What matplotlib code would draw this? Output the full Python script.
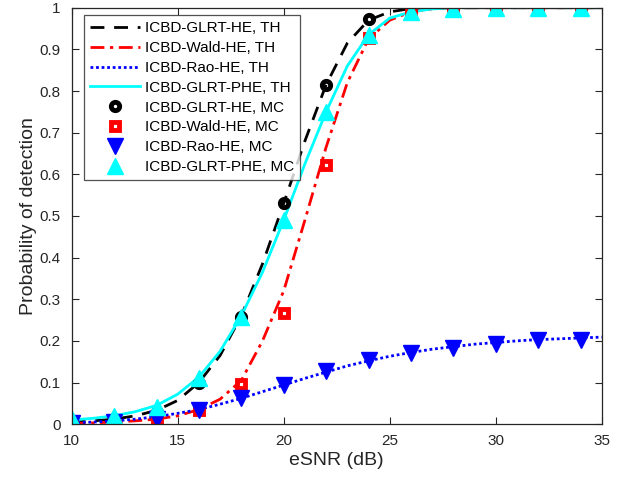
import matplotlib.pyplot as plt
from matplotlib.ticker import MultipleLocator

plt.rcParams["font.family"] = ["Liberation Sans", "DejaVu Sans"]

# Curvas teoricas (TH), amostradas a cada 1 dB
snr_th = list(range(10, 36))
glrt_he_th = [0.005, 0.008, 0.012, 0.02, 0.033, 0.057, 0.1, 0.165, 0.26, 0.385,
              0.53, 0.68, 0.815, 0.915, 0.97, 0.99, 0.998, 1.0, 1.0, 1.0,
              1.0, 1.0, 1.0, 1.0, 1.0, 1.0]
wald_he_th = [0.002, 0.003, 0.005, 0.008, 0.012, 0.02, 0.035, 0.06, 0.105, 0.2,
              0.32, 0.49, 0.665, 0.82, 0.925, 0.97, 0.99, 0.997, 1.0, 1.0,
              1.0, 1.0, 1.0, 1.0, 1.0, 1.0]
rao_he_th = [0.003, 0.005, 0.008, 0.012, 0.018, 0.026, 0.035, 0.048, 0.062, 0.078,
             0.094, 0.11, 0.125, 0.14, 0.152, 0.163, 0.172, 0.18, 0.186, 0.192,
             0.196, 0.2, 0.203, 0.205, 0.207, 0.209]
glrt_phe_th = [0.01, 0.014, 0.02, 0.03, 0.045, 0.072, 0.113, 0.175, 0.26, 0.365,
               0.49, 0.625, 0.75, 0.86, 0.935, 0.975, 0.99, 0.997, 1.0, 1.0,
               1.0, 1.0, 1.0, 1.0, 1.0, 1.0]

# Simulacoes Monte Carlo (MC)
snr_mc = list(range(10, 35, 2))
glrt_he_mc = [0.005, 0.012, 0.03, 0.1, 0.258, 0.53, 0.814, 0.972, 0.998, 1.0, 1.0, 1.0, 1.0]
wald_he_mc = [0.002, 0.004, 0.01, 0.034, 0.096, 0.268, 0.622, 0.927, 0.995, 1.0, 1.0, 1.0, 1.0]
rao_he_mc = [0.003, 0.006, 0.012, 0.035, 0.062, 0.095, 0.128, 0.155, 0.171, 0.184, 0.193, 0.202, 0.201]
glrt_phe_mc = [0.012, 0.02, 0.042, 0.11, 0.258, 0.49, 0.75, 0.935, 0.99, 0.998, 1.0, 1.0, 1.0]

fig = plt.figure(figsize=(6.29, 4.82), dpi=100)
ax = fig.add_axes([0.114, 0.12, 0.8426, 0.864])

lw = 2.0
ax.plot(snr_th, glrt_he_th, "--", color="k", lw=lw, dashes=(5, 3.5), label="ICBD-GLRT-HE, TH")
ax.plot(snr_th, wald_he_th, "-.", color="r", lw=lw, dashes=(5, 2, 1.2, 2), label="ICBD-Wald-HE, TH")
ax.plot(snr_th, rao_he_th, ":", color="b", lw=lw, dashes=(1, 1), label="ICBD-Rao-HE, TH")
ax.plot(snr_th, glrt_phe_th, "-", color="cyan", lw=lw, label="ICBD-GLRT-PHE, TH")

ax.plot(snr_mc, glrt_he_mc, "o", ls="none", color="k", mfc="none", ms=6, mew=3.5,
        label="ICBD-GLRT-HE, MC")
ax.plot(snr_mc, wald_he_mc, "s", ls="none", color="r", mfc="none", ms=5.5, mew=3.5,
        label="ICBD-Wald-HE, MC")
ax.plot(snr_mc, rao_he_mc, "v", ls="none", color="b", ms=11, mew=1,
        label="ICBD-Rao-HE, MC")
ax.plot(snr_mc, glrt_phe_mc, "^", ls="none", color="cyan", ms=11, mew=1,
        label="ICBD-GLRT-PHE, MC")

ax.set_xlim(10, 35)
ax.set_ylim(0, 1)
ax.xaxis.set_major_locator(MultipleLocator(5))
ax.yaxis.set_major_locator(MultipleLocator(0.1))
ax.yaxis.set_major_formatter(plt.FuncFormatter(lambda v, p: f"{v:g}"))
ax.tick_params(direction="in", top=True, right=True, labelsize=11, colors="#262626",
               length=5, width=0.8)
ax.tick_params(axis="x", pad=7)
ax.tick_params(axis="y", pad=8)
for s in ax.spines.values():
    s.set_color("#262626")
    s.set_linewidth(0.9)

ax.set_xlabel("eSNR (dB)", fontsize=14, color="#262626", labelpad=3)
ax.set_ylabel("Probability of detection", fontsize=14, color="#262626", labelpad=2)

leg = ax.legend(loc="upper left", bbox_to_anchor=(0.023, 0.982), borderaxespad=0,
                fontsize=11, frameon=True, fancybox=False, edgecolor="#262626",
                handlelength=3.3, labelspacing=0.38, borderpad=0.4, handletextpad=0.3)
leg.get_frame().set_linewidth(0.9)

plt.savefig("out.png", dpi=100)
plt.close()
